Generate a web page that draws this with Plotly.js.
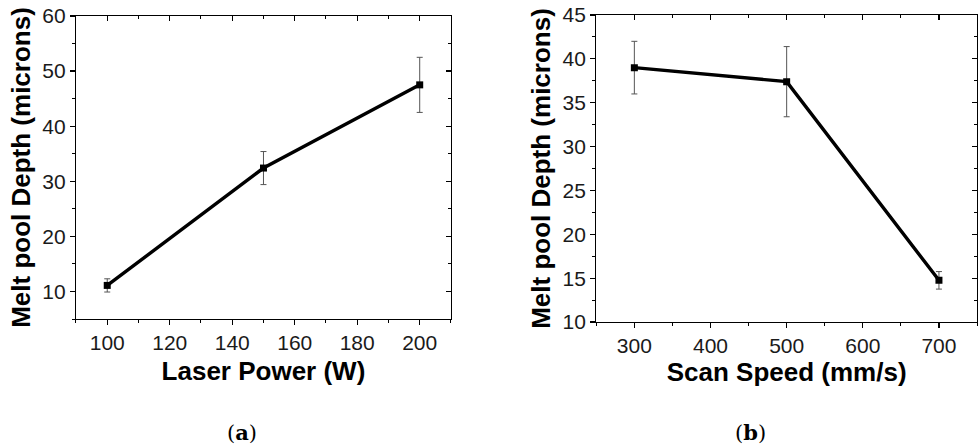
<!DOCTYPE html>
<html>
<head>
<meta charset="utf-8">
<script src="https://cdn.plot.ly/plotly-3.0.1.min.js"></script>
<style>html,body{margin:0;padding:0;background:#fff;}#chart{width:978px;height:448px;}</style>
</head>
<body>
<div id="chart"></div>
<script>
// Panel (a): Laser power
const laserPower = [100, 150, 200];
const depthA = [11.1, 32.4, 47.5];
const errA = [1.2, 3.0, 5.0];
// Panel (b): Scan speed
const scanSpeed = [300, 500, 700];
const depthB = [39.0, 37.4, 14.75];
const errB = [3.0, 4.0, 1.0];

const xTitleA = 'Laser Power (W)';
const xTitleB = 'Scan Speed (mm/s)';
const yTitle = 'Melt pool Depth (microns)';
const captions = ['(<b>a</b>)', '(<b>b</b>)'];

const tickFont = {family: 'Liberation Sans, Arial, sans-serif', size: 21, color: '#1a1a1a'};
const titleFont = {family: 'Liberation Sans, Arial, sans-serif', size: 26, color: '#000', weight: 'bold'};

function trace(x, y, e, xa, ya) {
  return {
    x: x, y: y, xaxis: xa, yaxis: ya, type: 'scatter', mode: 'lines+markers',
    line: {color: '#000', width: 3.4},
    marker: {symbol: 'square', size: 7, color: '#000'},
    error_y: {type: 'data', array: e, visible: true, color: '#555', thickness: 1, width: 3},
    showlegend: false, hoverinfo: 'x+y'
  };
}

function mainAxis(domain, range, dtick, minorD, anchor, title, standoff) {
  return {
    domain: domain, range: range, dtick: dtick, tick0: 0, anchor: anchor,
    showgrid: false, zeroline: false, showline: true, linecolor: '#000', linewidth: 1.2,
    ticks: 'outside', ticklen: 5, tickwidth: 1.2, tickcolor: '#000',
    minor: {dtick: minorD, ticks: 'outside', ticklen: 3, tickwidth: 1, tickcolor: '#000', showgrid: false},
    tickfont: tickFont, fixedrange: true,
    title: {text: title, font: titleFont, standoff: standoff}
  };
}
function mirrorAxis(over, range, dtick, minorD, anchor, side) {
  return {
    overlaying: over, range: range, dtick: dtick, tick0: 0, anchor: anchor, side: side,
    showgrid: false, zeroline: false, showline: true, linecolor: '#000', linewidth: 1.2,
    ticks: 'inside', ticklen: 5, tickwidth: 1.2, tickcolor: '#000',
    minor: {dtick: minorD, ticks: 'inside', ticklen: 3, tickwidth: 1, tickcolor: '#000', showgrid: false},
    showticklabels: false, fixedrange: true
  };
}

const dxA = [0.0777, 0.4611], dyA = [0.2879, 0.9643];
const dxB = [0.6097, 0.999], dyB = [0.28125, 0.9665];
const rxA = [90, 210], ryA = [5, 60];
const rxB = [250, 750], ryB = [10, 45];

const data = [
  trace(laserPower, depthA, errA, 'x', 'y'),
  trace(scanSpeed, depthB, errB, 'x2', 'y2'),
  {x: [], y: [], xaxis: 'x3', yaxis: 'y3', type: 'scatter', showlegend: false},
  {x: [], y: [], xaxis: 'x4', yaxis: 'y4', type: 'scatter', showlegend: false}
];

const capFont = {family: 'DejaVu Serif, Liberation Serif, serif', size: 21, color: '#000'};
const layout = {
  width: 978, height: 448,
  margin: {l: 0, r: 0, t: 0, b: 0},
  paper_bgcolor: '#fff', plot_bgcolor: '#fff',
  xaxis: mainAxis(dxA, rxA, 20, 10, 'y', xTitleA, 8),
  yaxis: mainAxis(dyA, ryA, 10, 5, 'x', yTitle, 4),
  xaxis2: mainAxis(dxB, rxB, 100, 50, 'y2', xTitleB, 4),
  yaxis2: mainAxis(dyB, ryB, 5, 2.5, 'x2', yTitle, 4),
  xaxis3: mirrorAxis('x', rxA, 20, 10, 'y3', 'top'),
  yaxis3: mirrorAxis('y', ryA, 10, 5, 'x3', 'right'),
  xaxis4: mirrorAxis('x2', rxB, 100, 50, 'y4', 'top'),
  yaxis4: mirrorAxis('y2', ryB, 5, 2.5, 'x4', 'right'),
  annotations: [
    {text: captions[0], xref: 'paper', yref: 'paper', x: 242/978, y: 1 - 432/448, showarrow: false,
     font: capFont, xanchor: 'center', yanchor: 'middle'},
    {text: captions[1], xref: 'paper', yref: 'paper', x: 750/978, y: 1 - 432/448, showarrow: false,
     font: capFont, xanchor: 'center', yanchor: 'middle'}
  ]
};

Plotly.newPlot('chart', data, layout, {displayModeBar: false, staticPlot: true});
</script>
</body>
</html>
